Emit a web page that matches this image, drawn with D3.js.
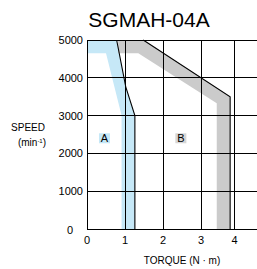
<!DOCTYPE html>
<html>
<head>
<meta charset="utf-8">
<script src="https://cdn.jsdelivr.net/npm/d3@7"></script>
<style>
  body { margin: 0; background: #fff; }
  svg { font-family: "Liberation Sans", Arial, sans-serif; }
</style>
</head>
<body>
<svg id="chart"></svg>
<script>
// tick values
const torqueTicks = [0, 1, 2, 3, 4];
const speedTicks = [0, 1000, 2000, 3000, 4000, 5000];

// region A (continuous duty) band and its limit line
const bandA = [[0, 5000], [0.78, 5000], [1.02, 3760], [1.26, 3000], [1.26, 0],
               [0.91, 0], [0.91, 3000], [0.5, 4650], [0, 4650]];
const lineA = [[0.78, 5000], [1.02, 3760], [1.26, 3000], [1.26, 0]];

// region B (intermittent duty) band and its limit line
const bandB = [[0.82, 5000], [1.48, 5000], [3.87, 3500], [3.87, 0],
               [3.47, 0], [3.47, 3330], [1.35, 4650], [0.82, 4650]];
const lineB = [[1.48, 5000], [3.87, 3500], [3.87, 0]];

const W = 257, H = 269;
const svg = d3.select("#chart").attr("width", W).attr("height", H);

// the drawing's grid is not quite even, so the x scale is piecewise
const x = d3.scaleLinear().domain([0, 3, 4]).range([87, 201, 234.5]);
const y = d3.scaleLinear().domain([0, 5000]).range([229, 40]);

const area = d3.line().x(d => x(d[0])).y(d => y(d[1]));

svg.append("path").datum(bandA).attr("d", d => area(d) + "Z").attr("fill", "#c6e8f7");
svg.append("path").datum(bandB).attr("d", d => area(d) + "Z").attr("fill", "#cbcbcb");

// grid
const grid = svg.append("g").attr("stroke", "#000").attr("stroke-width", 1)
  .attr("shape-rendering", "crispEdges");
grid.selectAll(".h").data(speedTicks).enter().append("line")
  .attr("x1", x(0)).attr("x2", W)
  .attr("y1", d => y(d)).attr("y2", d => y(d));
grid.selectAll(".v").data(torqueTicks).enter().append("line")
  .attr("x1", d => x(d)).attr("x2", d => x(d))
  .attr("y1", y(0)).attr("y2", y(5000));

// limit lines
[lineA, lineB].forEach(l => {
  svg.append("path").datum(l).attr("d", area)
    .attr("fill", "none").attr("stroke", "#000").attr("stroke-width", 1.1);
});

// y labels
svg.selectAll(".yl").data(speedTicks).enter().append("text")
  .attr("x", d => d === 0 ? 70 : 83)
  .attr("y", d => y(d) + (d === 0 ? 5 : 4))
  .attr("text-anchor", d => d === 0 ? "middle" : "end")
  .attr("font-size", 11)
  .text(d => d);

// x labels
svg.selectAll(".xl").data(torqueTicks).enter().append("text")
  .attr("x", d => x(d))
  .attr("y", 244)
  .attr("text-anchor", "middle")
  .attr("font-size", 11)
  .text(d => d);

// title
svg.append("text").attr("x", 149).attr("y", 27).attr("text-anchor", "middle")
  .attr("font-size", 21).text("SGMAH-04A");

// axis titles
svg.append("text").attr("x", 28).attr("y", 131).attr("text-anchor", "middle")
  .attr("font-size", 10).text("SPEED");
const minT = svg.append("text").attr("x", 32).attr("y", 146).attr("text-anchor", "middle")
  .attr("font-size", 10);
minT.append("tspan").text("(min");
minT.append("tspan").attr("font-size", 6).attr("dy", -3).text("-1");
minT.append("tspan").attr("dy", 3).text(")");

svg.append("text").attr("x", 182).attr("y", 264).attr("text-anchor", "middle")
  .attr("font-size", 10).text("TORQUE (N \u00b7 m)");

// region labels
const regions = [["A", 0.46, "#c6e8f7"], ["B", 2.47, "#d6d6d6"]];
regions.forEach(r => {
  const cx = x(r[1]), cy = y(2400);
  svg.append("rect").attr("x", cx - 5.5).attr("y", cy - 5).attr("width", 11).attr("height", 10)
    .attr("fill", r[2]);
  svg.append("text").attr("x", cx).attr("y", cy + 4).attr("text-anchor", "middle")
    .attr("font-size", 11).text(r[0]);
});
</script>
</body>
</html>
